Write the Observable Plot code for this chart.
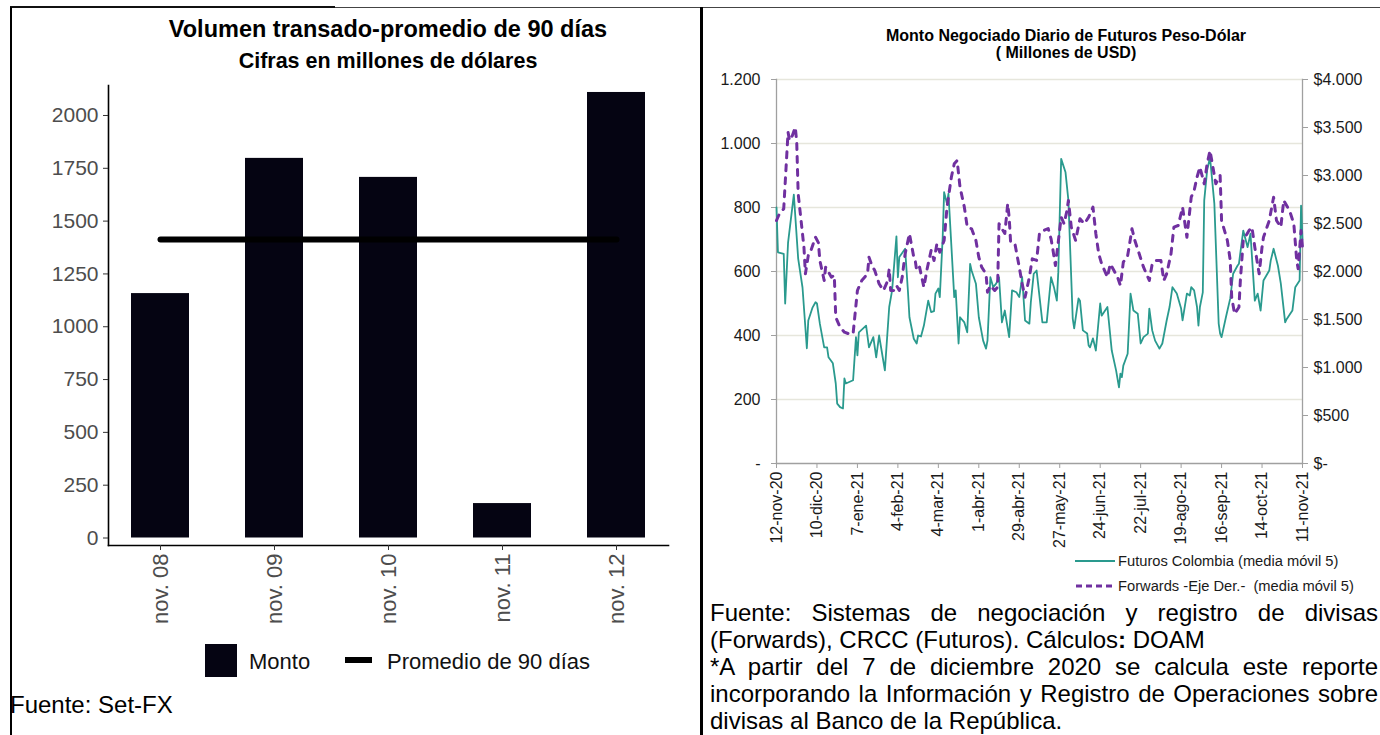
<!DOCTYPE html>
<html>
<head>
<meta charset="utf-8">
<script src="https://cdn.jsdelivr.net/npm/d3@7"></script>
<script src="https://cdn.jsdelivr.net/npm/@observablehq/plot@0.6"></script>
<style>
  html, body { margin: 0; padding: 0; background: #fff; }
  #page { position: relative; width: 1380px; height: 735px; overflow: hidden; background: #fff;
          font-family: "Liberation Sans", Arial, sans-serif; color: #000; }
  .abs { position: absolute; white-space: nowrap; }
  .jl { text-align: justify; text-align-last: justify; }
</style>
</head>
<body>
<div id="page">
  <!-- left panel texts -->
  <div class="abs" style="left:88px;width:600px;top:18px;font-size:23.5px;line-height:23.5px;font-weight:bold;text-align:center;">Volumen transado-promedio de 90 días</div>
  <div class="abs" style="left:88px;width:600px;top:51px;font-size:21.5px;line-height:21.5px;font-weight:bold;text-align:center;">Cifras en millones de dólares</div>
  <div id="leftPlot" class="abs" style="left:0;top:80px;"></div>
  <div class="abs" style="left:205px;top:644px;width:32px;height:33px;background:#050412;"></div>
  <div class="abs" style="left:249px;top:651px;font-size:22px;line-height:22px;color:#111;">Monto</div>
  <div class="abs" style="left:345px;top:657px;width:27px;height:6px;background:#000;"></div>
  <div class="abs" style="left:387px;top:651px;font-size:22px;line-height:22px;color:#111;">Promedio de 90 días</div>
  <div class="abs" style="left:10px;top:693px;font-size:24px;line-height:24px;">Fuente: Set-FX</div>

  <!-- right panel texts -->
  <div class="abs" style="left:866px;width:400px;top:28px;font-size:16px;line-height:16px;font-weight:bold;text-align:center;">Monto Negociado Diario de Futuros Peso-Dólar</div>
  <div class="abs" style="left:866px;width:400px;top:45px;font-size:16px;line-height:16px;font-weight:bold;text-align:center;">( Millones de USD)</div>
  <div id="rightPlot" class="abs" style="left:700px;top:70px;"></div>
  <svg class="abs" style="left:1070px;top:550px;" width="50" height="45">
    <line x1="5" x2="45" y1="11" y2="11" stroke="#2a9a8e" stroke-width="2"/>
    <line x1="6" x2="45" y1="36" y2="36" stroke="#7030a0" stroke-width="3" stroke-dasharray="6,4"/>
  </svg>
  <div class="abs" style="left:1118px;top:553.5px;font-size:14.7px;line-height:14.7px;color:#1a1a1a;">Futuros Colombia (media móvil 5)</div>
  <div class="abs" style="left:1118px;top:578.5px;font-size:14.7px;line-height:14.7px;color:#1a1a1a;">Forwards -Eje Der.-&nbsp; (media móvil 5)</div>

  <div class="abs jl" style="left:710px;width:668px;top:600.7px;font-size:24px;line-height:24px;">Fuente: Sistemas de negociación y registro de divisas</div>
  <div class="abs" style="left:710px;width:668px;top:627.7px;font-size:24px;line-height:24px;">(Forwards), CRCC (Futuros). Cálculos<b>:</b> DOAM</div>
  <div class="abs jl" style="left:710px;width:668px;top:654.7px;font-size:24px;line-height:24px;">*A partir del 7 de diciembre 2020 se calcula este reporte</div>
  <div class="abs jl" style="left:710px;width:668px;top:681.7px;font-size:24px;line-height:24px;">incorporando la Información y Registro de Operaciones sobre</div>
  <div class="abs" style="left:710px;width:668px;top:708.7px;font-size:24px;line-height:24px;">divisas al Banco de la República.</div>

  <!-- frame lines -->
  <div class="abs" style="left:10px;top:7px;width:1370px;height:1px;background:#444;"></div>
  <div class="abs" style="left:10px;top:6px;width:325px;height:2px;background:#111;"></div>
  <div class="abs" style="left:10px;top:7px;width:2px;height:728px;background:#000;"></div>
  <div class="abs" style="left:700px;top:7px;width:3px;height:728px;background:#000;"></div>
</div>
<script>
// ---------- Left chart data ----------
const meses = ["nov. 08", "nov. 09", "nov. 10", "nov. 11", "nov. 12"];
const monto = [1157, 1797, 1707, 163, 2109];
const promedio90 = [1413, 1413, 1413, 1413, 1413];
const ticksMonto = [0, 250, 500, 750, 1000, 1250, 1500, 1750, 2000];

// ---------- Right chart data ----------
const futFechas = ["2020-11-12","2020-11-13","2020-11-17","2020-11-18","2020-11-20","2020-11-24","2020-11-27","2020-11-30","2020-12-03","2020-12-04","2020-12-07","2020-12-09","2020-12-10","2020-12-12","2020-12-15","2020-12-17","2020-12-18","2020-12-21","2020-12-23","2020-12-24","2020-12-26","2020-12-28","2020-12-29","2020-12-30","2021-01-04","2021-01-06","2021-01-07","2021-01-08","2021-01-13","2021-01-15","2021-01-18","2021-01-20","2021-01-22","2021-01-26","2021-01-29","2021-01-31","2021-02-03","2021-02-04","2021-02-05","2021-02-09","2021-02-11","2021-02-12","2021-02-15","2021-02-17","2021-02-18","2021-02-20","2021-02-22","2021-02-25","2021-02-27","2021-03-01","2021-03-02","2021-03-04","2021-03-05","2021-03-07","2021-03-08","2021-03-10","2021-03-11","2021-03-15","2021-03-16","2021-03-18","2021-03-19","2021-03-22","2021-03-24","2021-03-26","2021-03-27","2021-03-30","2021-04-01","2021-04-04","2021-04-06","2021-04-07","2021-04-09","2021-04-11","2021-04-13","2021-04-15","2021-04-17","2021-04-19","2021-04-22","2021-04-24","2021-04-27","2021-04-29","2021-05-01","2021-05-03","2021-05-06","2021-05-07","2021-05-09","2021-05-11","2021-05-15","2021-05-18","2021-05-21","2021-05-23","2021-05-25","2021-05-26","2021-05-28","2021-05-31","2021-06-02","2021-06-05","2021-06-06","2021-06-09","2021-06-10","2021-06-12","2021-06-15","2021-06-16","2021-06-17","2021-06-19","2021-06-21","2021-06-24","2021-06-25","2021-06-29","2021-07-02","2021-07-05","2021-07-07","2021-07-08","2021-07-09","2021-07-10","2021-07-13","2021-07-15","2021-07-17","2021-07-20","2021-07-22","2021-07-24","2021-07-27","2021-07-28","2021-07-30","2021-08-01","2021-08-04","2021-08-06","2021-08-09","2021-08-11","2021-08-13","2021-08-16","2021-08-19","2021-08-20","2021-08-23","2021-08-25","2021-08-26","2021-08-28","2021-08-30","2021-08-31","2021-09-01","2021-09-03","2021-09-04","2021-09-06","2021-09-08","2021-09-11","2021-09-14","2021-09-15","2021-09-16","2021-09-19","2021-09-22","2021-09-24","2021-09-27","2021-09-28","2021-10-01","2021-10-04","2021-10-06","2021-10-09","2021-10-11","2021-10-13","2021-10-15","2021-10-19","2021-10-20","2021-10-22","2021-10-25","2021-10-27","2021-10-30","2021-10-31","2021-11-04","2021-11-06","2021-11-09","2021-11-10","2021-11-11"];
const futValores = [800,660,655,500,690,840,640,550,360,447,488,504,500,437,363,363,332,313,250,187,176,172,266,250,260,395,338,410,431,363,395,332,400,291,489,541,710,582,645,671,535,457,390,375,400,397,431,509,473,476,531,547,520,707,848,812,843,520,541,375,457,441,410,624,603,562,457,384,359,384,582,551,562,582,441,478,395,541,535,520,582,447,437,504,593,603,441,441,582,551,509,598,952,910,822,453,422,516,509,416,406,369,363,391,353,500,462,489,353,291,238,281,270,306,343,531,478,468,375,395,406,484,416,384,359,375,447,489,551,531,484,447,531,525,551,541,489,431,489,535,822,916,957,812,437,406,395,457,516,593,618,624,728,676,718,509,531,478,572,603,634,671,618,562,441,451,478,551,572,806,700];

const fwdFechas = ["2020-11-12","2020-11-14","2020-11-17","2020-11-20","2020-11-21","2020-11-23","2020-11-25","2020-11-26","2020-11-27","2020-11-30","2020-12-01","2020-12-02","2020-12-04","2020-12-05","2020-12-09","2020-12-11","2020-12-12","2020-12-15","2020-12-16","2020-12-18","2020-12-20","2020-12-22","2020-12-23","2020-12-26","2020-12-29","2021-01-01","2021-01-04","2021-01-07","2021-01-10","2021-01-14","2021-01-15","2021-01-17","2021-01-19","2021-01-22","2021-01-25","2021-01-28","2021-01-29","2021-01-30","2021-02-01","2021-02-03","2021-02-05","2021-02-07","2021-02-09","2021-02-12","2021-02-15","2021-02-16","2021-02-17","2021-02-19","2021-02-22","2021-02-24","2021-02-27","2021-03-01","2021-03-03","2021-03-05","2021-03-08","2021-03-10","2021-03-13","2021-03-15","2021-03-17","2021-03-19","2021-03-22","2021-03-24","2021-03-27","2021-03-30","2021-04-01","2021-04-03","2021-04-06","2021-04-07","2021-04-09","2021-04-12","2021-04-14","2021-04-15","2021-04-17","2021-04-19","2021-04-21","2021-04-22","2021-04-23","2021-04-26","2021-04-29","2021-05-01","2021-05-03","2021-05-06","2021-05-08","2021-05-11","2021-05-13","2021-05-16","2021-05-19","2021-05-21","2021-05-22","2021-05-24","2021-05-25","2021-05-28","2021-05-30","2021-06-01","2021-06-02","2021-06-04","2021-06-07","2021-06-10","2021-06-13","2021-06-16","2021-06-19","2021-06-21","2021-06-23","2021-06-25","2021-06-29","2021-07-01","2021-07-06","2021-07-08","2021-07-10","2021-07-13","2021-07-14","2021-07-16","2021-07-18","2021-07-21","2021-07-24","2021-07-28","2021-07-30","2021-08-02","2021-08-05","2021-08-07","2021-08-09","2021-08-12","2021-08-14","2021-08-17","2021-08-20","2021-08-23","2021-08-26","2021-08-28","2021-08-30","2021-09-01","2021-09-04","2021-09-06","2021-09-08","2021-09-10","2021-09-12","2021-09-15","2021-09-16","2021-09-20","2021-09-22","2021-09-23","2021-09-25","2021-09-28","2021-09-29","2021-10-01","2021-10-05","2021-10-07","2021-10-09","2021-10-12","2021-10-14","2021-10-15","2021-10-19","2021-10-22","2021-10-24","2021-10-27","2021-10-29","2021-11-02","2021-11-05","2021-11-07","2021-11-08","2021-11-10","2021-11-11"];
const fwdValores = [2531,2601,2653,3451,3365,3417,3503,3347,2809,2393,2250,1976,2167,2184,2357,2300,2115,1906,2045,1993,1941,1960,1524,1420,1368,1351,1351,1802,1906,1976,2149,2063,2010,1872,1802,1906,2028,1802,1802,1854,1802,1941,2184,2393,2149,2115,2010,2045,1837,2010,2219,2115,2288,2200,2323,2670,2982,3122,3156,2878,2670,2462,2445,2323,2149,2045,1976,1785,1854,1802,1837,2497,2445,2396,2705,2566,2305,2288,2045,1872,1732,1941,2132,2115,2400,2427,2448,2340,2253,2063,2184,2566,2497,2635,2740,2462,2323,2549,2497,2566,2670,2393,2184,2080,1941,2080,1941,1854,2097,2167,2253,2445,2323,2184,2045,1906,2080,2115,2115,1906,1976,2184,2462,2479,2670,2357,2774,2844,2982,3087,2913,3122,3260,3087,2913,3000,2531,2323,2115,1732,1559,1628,1906,2323,2427,2462,2253,1976,2253,2357,2531,2774,2531,2462,2740,2635,2497,2115,2028,2427,2253];

const ticksFuturos = [0, 200, 400, 600, 800, 1000, 1200];
const ticksForwards = [0, 500, 1000, 1500, 2000, 2500, 3000, 3500, 4000];
const fechasTicks = ["2020-11-12","2020-12-10","2021-01-07","2021-02-04","2021-03-04","2021-04-01","2021-04-29","2021-05-27","2021-06-24","2021-07-22","2021-08-19","2021-09-16","2021-10-14","2021-11-11"];
const etiquetasTicks = ["12-nov-20","10-dic-20","7-ene-21","4-feb-21","4-mar-21","1-abr-21","29-abr-21","27-may-21","24-jun-21","22-jul-21","19-ago-21","16-sep-21","14-oct-21","11-nov-21"];

// ---------- build ----------
const FONT = '"Liberation Sans", Arial, sans-serif';
const loc = d3.formatLocale({decimal: ",", thousands: ".", grouping: [3], currency: ["$", ""]});
const fmtMiles = loc.format(",");

const dataL = meses.map((m, i) => ({mes: m, monto: monto[i], prom: promedio90[i]}));

const left = Plot.plot({
  width: 700, height: 560,
  marginLeft: 108, marginRight: 32, marginTop: 5, marginBottom: 95,
  style: {background: "transparent", fontFamily: FONT, overflow: "visible"},
  x: {domain: meses, paddingInner: 0.49, paddingOuter: 0.2, axis: null},
  y: {domain: [-35.5, 2142], axis: null},
  marks: [
    Plot.barY(dataL, {x: "mes", y: "monto", fill: "#050412"}),
    Plot.lineY(dataL, {x: "mes", y: "prom", stroke: "#000", strokeWidth: 6}),
    Plot.frame({anchor: "left", stroke: "#000", strokeWidth: 1.6}),
    Plot.frame({anchor: "bottom", stroke: "#000", strokeWidth: 1.6}),
    Plot.axisY({ticks: ticksMonto, tickFormat: d => String(d), tickSize: 5, tickPadding: 5, fontSize: 21,
      stroke: "#333", fill: "#4d4d4d", label: null}),
    Plot.axisX({tickSize: 5, tickPadding: 3, tickRotate: -90, fontSize: 22, stroke: "#333", fill: "#4d4d4d", label: null})
  ]
});
document.getElementById("leftPlot").appendChild(left);

const ESCALA = 1200 / 4000;
const fut = futFechas.map((d, i) => ({fecha: new Date(d), valor: futValores[i]}));
const fwd = fwdFechas.map((d, i) => ({fecha: new Date(d), valor: fwdValores[i]}));
const etiquetaMap = new Map(fechasTicks.map((d, i) => [+new Date(d), etiquetasTicks[i]]));

const right = Plot.plot({
  width: 680, height: 480,
  marginLeft: 76, marginRight: 78, marginTop: 9, marginBottom: 87,
  style: {background: "transparent", fontFamily: FONT, overflow: "visible"},
  x: {type: "utc", domain: [new Date(fechasTicks[0]), new Date(fechasTicks[fechasTicks.length - 1])], axis: null},
  y: {domain: [0, 1200], axis: null},
  marks: [
    Plot.ruleY(ticksFuturos.filter(v => v > 0), {stroke: "#e6e6dc", strokeWidth: 1.3}),
    Plot.frame({anchor: "left", stroke: "#a0a0a0", strokeWidth: 1.3}),
    Plot.frame({anchor: "right", stroke: "#a0a0a0", strokeWidth: 1.3}),
    Plot.frame({anchor: "bottom", stroke: "#a0a0a0", strokeWidth: 1.3}),
    Plot.axisY({anchor: "left", ticks: ticksFuturos, tickFormat: v => v === 0 ? "-" : fmtMiles(v),
      tickSize: 5, tickPadding: 11, fontSize: 16, stroke: "#a0a0a0", fill: "#1a1a1a", label: null}),
    Plot.axisY({anchor: "right", ticks: ticksForwards.map(v => v * ESCALA),
      tickFormat: v => { const r = Math.round(v / ESCALA); return r === 0 ? "$-" : "$" + fmtMiles(r); },
      tickSize: 5, tickPadding: 6, fontSize: 16, stroke: "#a0a0a0", fill: "#1a1a1a", label: null}),
    Plot.axisX({ticks: fechasTicks.map(d => new Date(d)), tickFormat: d => etiquetaMap.get(+d),
      tickRotate: -90, tickSize: 5, tickPadding: 3, fontSize: 16, stroke: "#a0a0a0", fill: "#1a1a1a", label: null}),
    Plot.line(fut, {x: "fecha", y: "valor", stroke: "#2a9a8e", strokeWidth: 1.8}),
    Plot.line(fwd, {x: "fecha", y: d => d.valor * ESCALA, stroke: "#7030a0", strokeWidth: 3,
      strokeDasharray: "6,7", strokeLinecap: "round"})
  ]
});
document.getElementById("rightPlot").appendChild(right);
</script>
</body>
</html>
